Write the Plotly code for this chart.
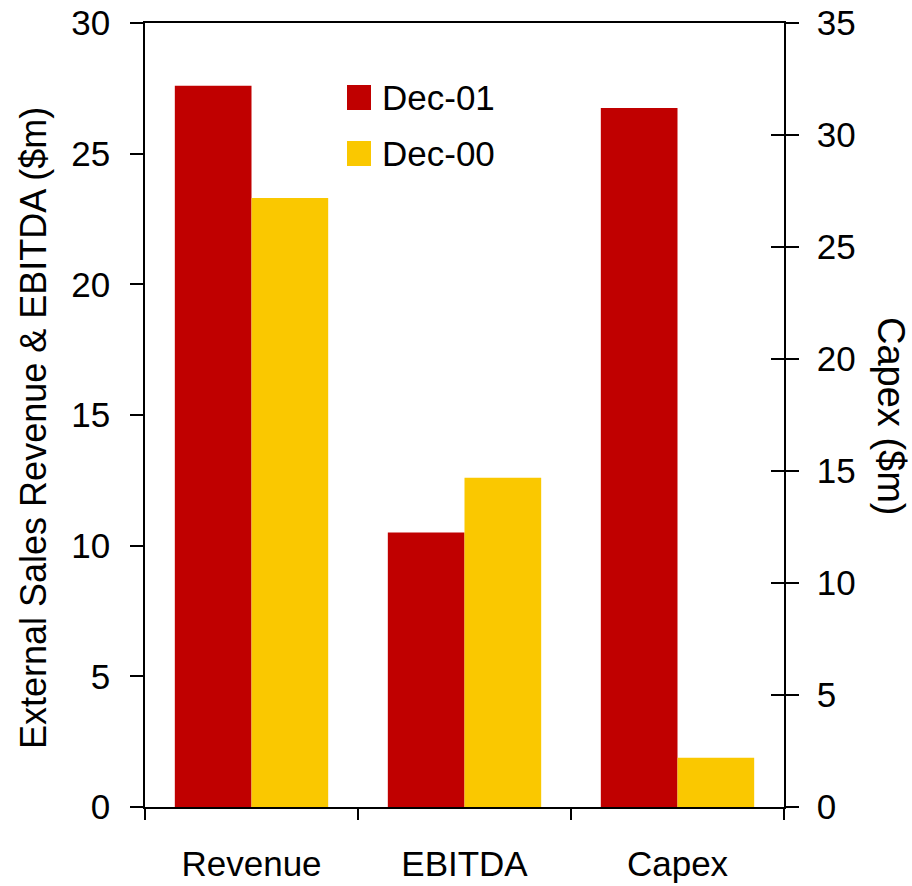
import plotly.graph_objects as go

categories = ["Revenue", "EBITDA", "Capex"]
series_names = ["Dec-01", "Dec-00"]
dec01_left = [27.6, 10.5]      # Revenue, EBITDA (left axis)
dec00_left = [23.3, 12.6]
dec01_capex = [31.2]           # Capex (right axis)
dec00_capex = [2.2]
colors = ["#C00000", "#FAC800"]

left_ticks = [0, 5, 10, 15, 20, 25, 30]
right_ticks = [0, 5, 10, 15, 20, 25, 30, 35]

FONT = "Liberation Sans"
FS = 35

fig = go.Figure()
bw = 0.36
fig.add_trace(go.Bar(x=categories[:2], y=dec01_left, name=series_names[0], marker_color=colors[0],
                     width=bw, offset=-bw, yaxis="y", showlegend=False, marker_line_width=0))
fig.add_trace(go.Bar(x=categories[:2], y=dec00_left, name=series_names[1], marker_color=colors[1],
                     width=bw, offset=0, yaxis="y", showlegend=False, marker_line_width=0))
fig.add_trace(go.Bar(x=categories[2:], y=dec01_capex, name=series_names[0], marker_color=colors[0],
                     width=bw, offset=-bw, yaxis="y2", showlegend=False, marker_line_width=0))
fig.add_trace(go.Bar(x=categories[2:], y=dec00_capex, name=series_names[1], marker_color=colors[1],
                     width=bw, offset=0, yaxis="y2", showlegend=False, marker_line_width=0))

axis_line = dict(showline=True, linecolor="black", linewidth=1.5, showgrid=False,
                 zeroline=False, automargin=False)

fig.update_layout(
    width=912, height=886,
    margin=dict(l=145, r=128, t=23, b=79, pad=0),
    plot_bgcolor="white", paper_bgcolor="white",
    font=dict(family=FONT, size=FS, color="black"),
    showlegend=False,
    barmode="overlay",
    xaxis=dict(type="category", categoryorder="array", categoryarray=categories,
               range=[-0.5, 2.5], tickson="boundaries", ticks="outside", ticklen=11,
               tickwidth=1.5, tickcolor="black", mirror=True, ticklabelstandoff=25,
               **axis_line),
    yaxis=dict(range=[0, 30], tickvals=left_ticks, ticks="outside", ticklen=13,
               tickwidth=1.5, tickcolor="black", ticklabelstandoff=13, **axis_line),
    yaxis2=dict(range=[0, 35], tickvals=right_ticks, overlaying="y", side="right",
                ticks="outside", ticklen=13, tickwidth=1.5, tickcolor="black",
                ticklabelstandoff=11, **axis_line),
    yaxis3=dict(range=[0, 35], tickvals=right_ticks, overlaying="y", side="right",
                ticks="inside", ticklen=13, tickwidth=1.5, tickcolor="black",
                showticklabels=False, showline=False, showgrid=False, zeroline=False,
                automargin=False),
)

# invisible trace to activate yaxis3
fig.add_trace(go.Scatter(x=[categories[0]], y=[0], yaxis="y3", mode="markers",
                         marker=dict(opacity=0), hoverinfo="skip", showlegend=False))

pw, ph = 639, 784
def px_x(p):
    return (p - 145) / pw
def px_y(p):
    return (807 - p) / ph

# axis titles
fig.add_annotation(text="External Sales Revenue & EBITDA ($m)", xref="paper", yref="paper",
                   x=px_x(33), y=px_y(428), textangle=-90, showarrow=False,
                   xanchor="center", yanchor="middle", font=dict(size=36))
fig.add_annotation(text="Capex ($m)", xref="paper", yref="paper",
                   x=px_x(891), y=px_y(416), textangle=90, showarrow=False,
                   xanchor="center", yanchor="middle", font=dict(size=38))

# legend drawn manually
for i, (nm, col) in enumerate(zip(series_names, colors)):
    top = 85 + i * 56
    fig.add_shape(type="rect", xref="paper", yref="paper",
                  x0=px_x(347), x1=px_x(371), y0=px_y(top + 25), y1=px_y(top),
                  fillcolor=col, line=dict(width=0))
    fig.add_annotation(text=nm, xref="paper", yref="paper", x=px_x(380), y=px_y(top + 12.5),
                       xanchor="left", yanchor="middle", showarrow=False,
                       font=dict(size=FS))

fig.write_html("out.html")
